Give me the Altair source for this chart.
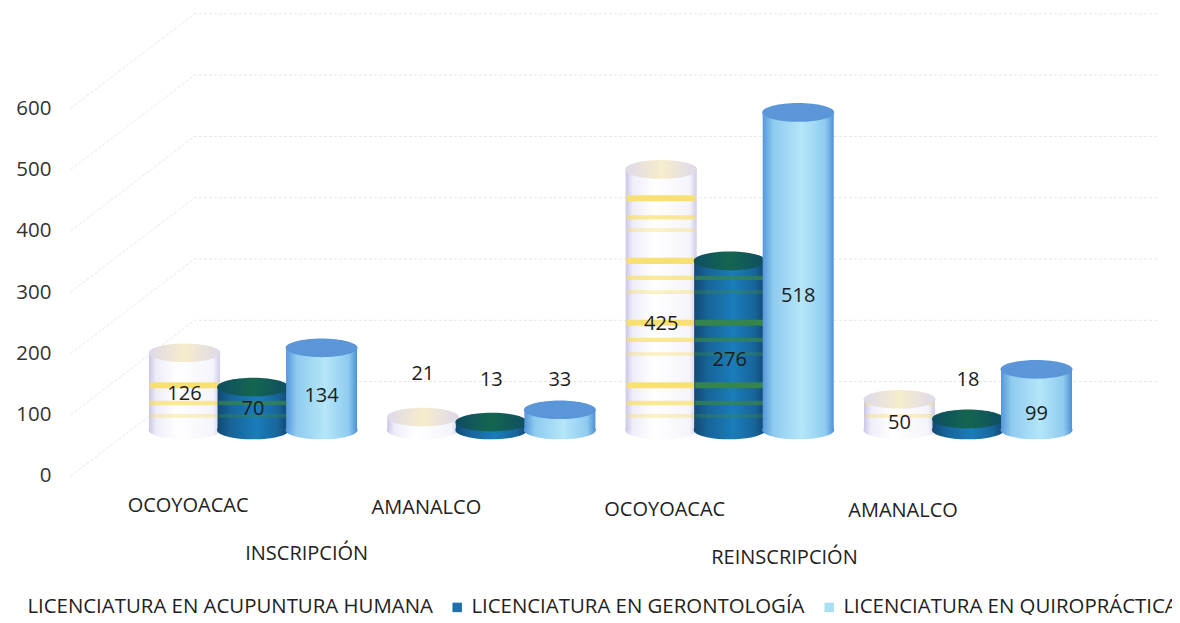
import altair as alt
import pandas as pd

# ---------- data ----------
series = ["LICENCIATURA EN ACUPUNTURA HUMANA", "LICENCIATURA EN GERONTOLOGÍA", "LICENCIATURA EN QUIROPRÁCTICA"]
acupuntura = [126, 21, 425, 50]
gerontologia = [70, 13, 276, 18]
quiropractica = [134, 33, 518, 99]
places = ["OCOYOACAC", "AMANALCO", "OCOYOACAC", "AMANALCO"]
phases = ["INSCRIPCIÓN", "REINSCRIPCIÓN"]
y_ticks = [0, 100, 200, 300, 400, 500, 600]
# heights (value units) at which the banding shows through the cylinders
band_strong = [73, 175, 276, 378]
band_medium = [44, 147, 248, 347]
band_light = [23, 124, 225, 326]
# heights (axis units) of the value labels, per series
label_h_1 = [133, 166, 248, 87]
label_h_2 = [110, 157, 189, 157]
label_h_3 = [130, 157, 294, 101]

FONT = "Open Sans"
SPACING = 0.2875
LIFT = -46
WIDE = 71
CAP = 5184
ELLIPSE = "M-1,0A1,0.26,0,1,1,1,0A1,0.26,0,1,1,-1,0Z"

xs = alt.Scale(domain=[-0.81, 3.856], nice=False, zero=False, padding=0)
ys = alt.Scale(domain=[-226.8, 763.5], nice=False, zero=False, padding=0)
y_axis = alt.Axis(values=y_ticks, title=None, domain=False, ticks=False, grid=False,
                  labelFont=FONT, labelFontSize=20.5, labelColor="#333333", labelPadding=9)
X = lambda f="x": alt.X(f"{f}:Q", scale=xs, axis=None)
Y = lambda f="v": alt.Y(f"{f}:Q", scale=ys, axis=y_axis)


def grad(stops):
    return alt.Gradient(
        gradient="linear", x1=0, x2=1, y1=0, y2=0,
        stops=[alt.GradientStop(offset=o, color=c) for o, c in stops],
    )


def cylinder(values, s, body, cap, band=None):
    df = pd.DataFrame({"x": [g + (s - 1) * SPACING for g in range(4)], "v": values, "zero": [0] * 4})
    layers = [
        alt.Chart(df).mark_point(shape=ELLIPSE, size=CAP, filled=True, fill=body, opacity=1, strokeWidth=0, yOffset=LIFT)
        .encode(x=X(), y=Y("zero")),
        alt.Chart(df).mark_bar(size=WIDE, fill=body, yOffset=LIFT, y2Offset=LIFT)
        .encode(x=X(), y=Y(), y2=alt.Y2("zero:Q")),
    ]
    if band:
        rows = []
        for x, v in zip(df["x"], values):
            for levels, op, half in ((band_strong, 0.95, 5), (band_medium, 0.7, 3.5), (band_light, 0.4, 3)):
                for l in levels:
                    if l < v:
                        rows.append({"x": x, "a": l - half, "b": l + half, "op": op})
        layers.append(
            alt.Chart(pd.DataFrame(rows)).mark_bar(size=WIDE - 2, fill=band, yOffset=LIFT, y2Offset=LIFT)
            .encode(x=X(), y=Y("a"), y2=alt.Y2("b:Q"), opacity=alt.Opacity("op:Q", scale=None, legend=None))
        )
    layers.append(
        alt.Chart(df).mark_point(shape=ELLIPSE, size=CAP, filled=True, fill=cap, opacity=1, strokeWidth=0, yOffset=LIFT)
        .encode(x=X(), y=Y())
    )
    return layers


def value_labels(values, heights, s):
    df = pd.DataFrame({"x": [g + (s - 1) * SPACING for g in range(4)], "h": heights, "t": [str(v) for v in values]})
    return (
        alt.Chart(df).mark_text(font=FONT, fontSize=20, color="#1c1c1c")
        .encode(x=X(), y=Y("h"), text="t:N")
    )


# perspective grid: front edge, back corner, back right end
DEPTH_V = 154
grid_rows = []
for t in y_ticks:
    grid_rows += [
        {"x": -0.765, "v": t, "k": t, "o": 0},
        {"x": -0.245, "v": t + DEPTH_V, "k": t, "o": 1},
        {"x": 3.80, "v": t + DEPTH_V, "k": t, "o": 2},
    ]
grid = (
    alt.Chart(pd.DataFrame(grid_rows))
    .mark_line(color="#e6e6e6", strokeWidth=1, strokeDash=[3, 2])
    .encode(x=X(), y=Y(), detail="k:N", order="o:Q")
)

place_df = pd.DataFrame({"x": [g - SPACING + 0.015 for g in range(4)], "v": [-49, -52, -55, -57], "t": places})
phase_df = pd.DataFrame({"x": [0.225, 2.23], "v": [-128, -134], "t": phases})
place_text = alt.Chart(place_df).mark_text(font=FONT, fontSize=20, color="#222222").encode(x=X(), y=Y(), text="t:N")
phase_text = alt.Chart(phase_df).mark_text(font=FONT, fontSize=20, color="#222222").encode(x=X(), y=Y(), text="t:N")

legend_df = pd.DataFrame({"x": [0, 0, 0], "v": [0, 0, 0], "s": series})
legend_layer = (
    alt.Chart(legend_df).mark_square(size=60, opacity=0)
    .encode(
        x=X(), y=Y(),
        color=alt.Color("s:N", scale=alt.Scale(domain=series, range=["#ffffff", "#1f6fa8", "#a9dff5"]),
                        legend=alt.Legend(
                            title=None, orient="none", legendX=-57, legendY=589, direction="horizontal",
                            columns=3, symbolType="square", symbolSize=90, symbolOpacity=1, symbolStrokeWidth=0,
                            labelFont=FONT, labelFontSize=20.4, labelColor="#222222", labelLimit=600,
                            columnPadding=14, symbolOffset=0)),
    )
)

body1 = grad([(0, "#c9c6e8"), (0.1, "#efedf9"), (0.4, "#ffffff"), (0.9, "#f5f4fb"), (1, "#cfccea")])
body2 = grad([(0, "#124a74"), (0.2, "#17659a"), (0.55, "#1a7cba"), (0.85, "#17659a"), (1, "#11466e")])
body3 = grad([(0, "#5597da"), (0.15, "#8fcbef"), (0.55, "#b5e6f9"), (0.88, "#8fcbef"), (1, "#4f90d4")])

layers = [grid, legend_layer]
layers += cylinder(acupuntura, 0, body1, grad([(0, "#ded9ea"), (0.5, "#f6edcb"), (1, "#ded9ea")]), band="#f8df6a")
layers += cylinder(gerontologia, 1, body2, grad([(0, "#0f4d63"), (0.5, "#14664f"), (1, "#0f4d63")]), band="#37864a")
layers += cylinder(quiropractica, 2, body3, "#5a96d8")
layers += [
    value_labels(acupuntura, label_h_1, 0),
    value_labels(gerontologia, label_h_2, 1),
    value_labels(quiropractica, label_h_3, 2),
    place_text,
    phase_text,
]

chart = (
    alt.layer(*layers)
    .properties(width=1112, height=607, padding={"left": 52, "top": 0, "right": 0, "bottom": 0},
                autosize=alt.AutoSizeParams(type="none"), background="#ffffff")
    .configure_view(stroke=None)
)
chart.save("out.html", embed_options={"renderer": "svg", "actions": False})
